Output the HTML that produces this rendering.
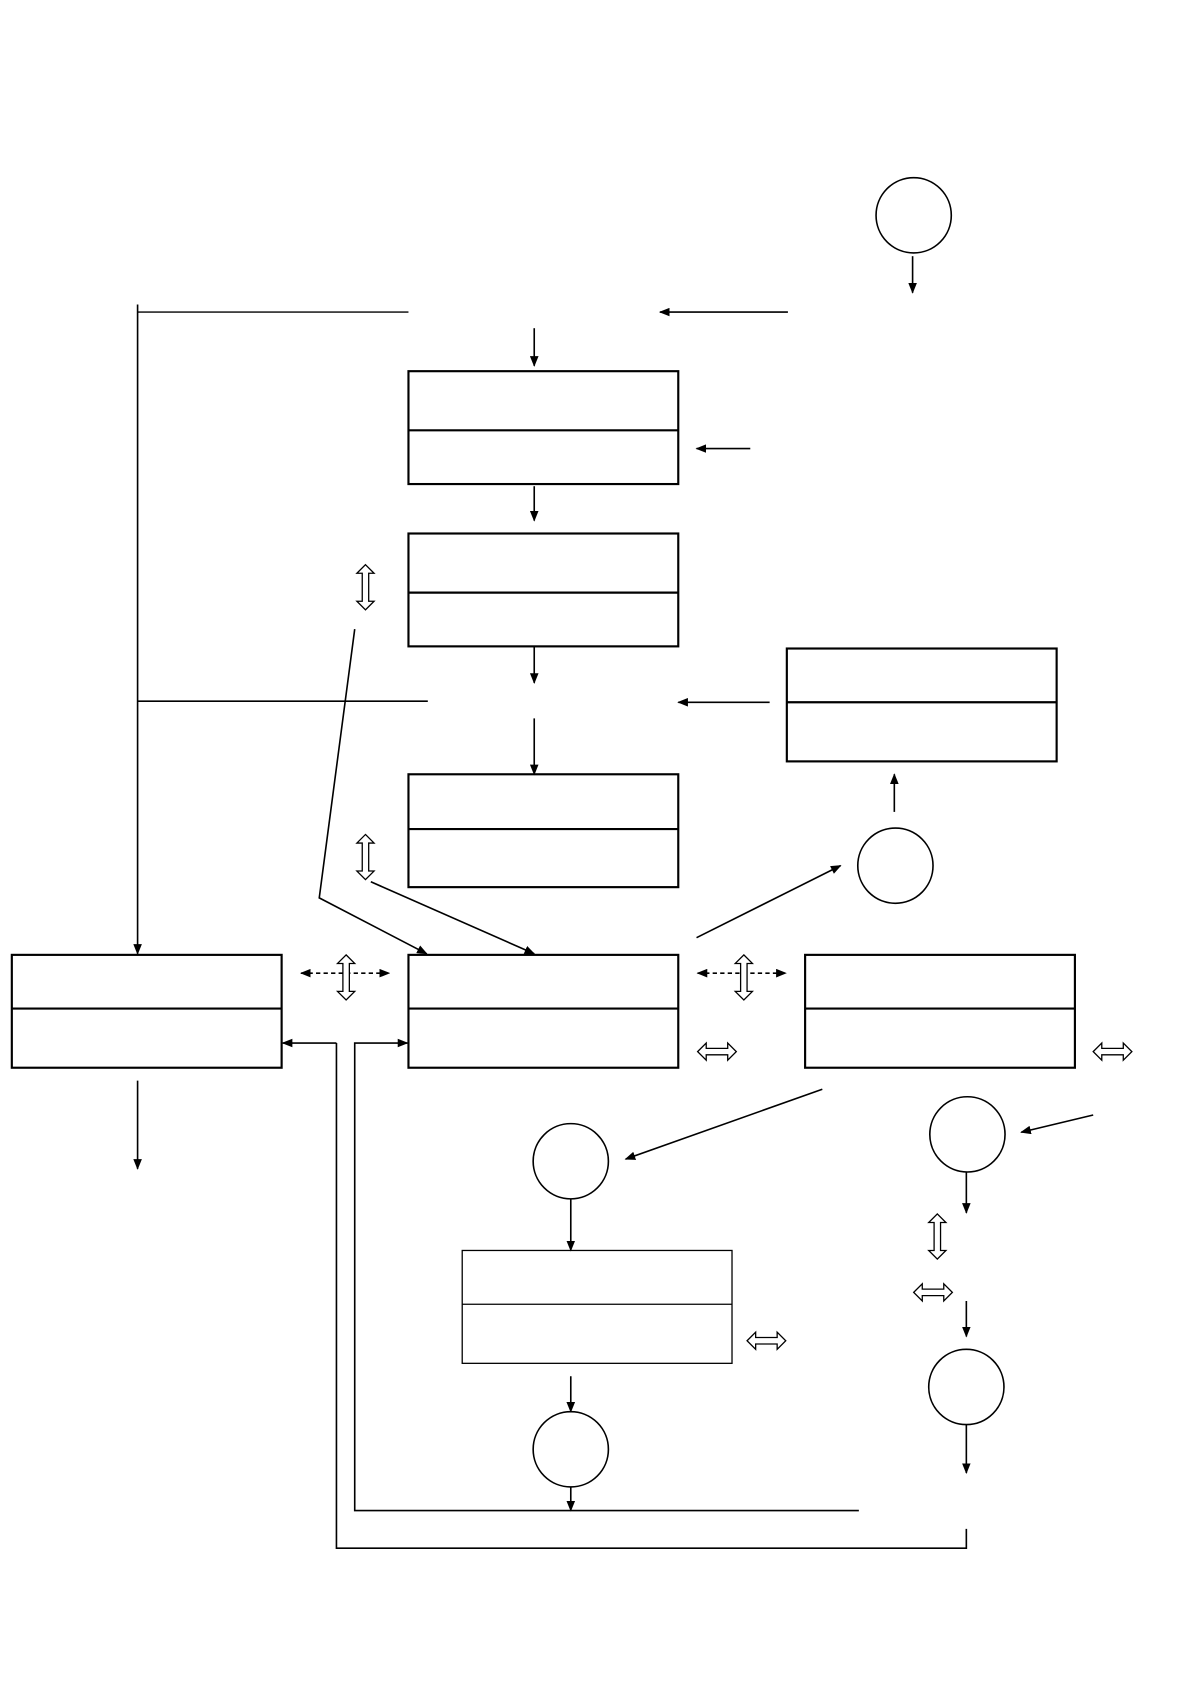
<!DOCTYPE html>
<html><head><meta charset="utf-8"><style>
html,body{margin:0;padding:0;background:#fff;}
svg{display:block;}
</style></head><body>
<svg width="1191" height="1684" viewBox="0 0 1108 1566" xmlns="http://www.w3.org/2000/svg">
<defs>
<marker id="a" markerWidth="10" markerHeight="8" refX="9" refY="4" orient="auto" markerUnits="userSpaceOnUse">
<path d="M0,0 L10,4 L0,8 z" fill="#000"/></marker>
<marker id="b" markerWidth="10" markerHeight="8" refX="1" refY="4" orient="auto" markerUnits="userSpaceOnUse">
<path d="M10,0 L0,4 L10,8 z" fill="#000"/></marker>
<g id="vd"><polygon points="0,-21 8,-13 3,-13 3,13 8,13 0,21 -8,13 -3,13 -3,-13 -8,-13" fill="#fff" stroke="#000" stroke-width="1.2"/></g>
<g id="hd"><polygon points="-18,0 -10,-8 -10,-3 10,-3 10,-8 18,0 10,8 10,3 -10,3 -10,8" fill="#fff" stroke="#000" stroke-width="1.2"/></g>
</defs>
<g fill="none" stroke="#000" stroke-width="1.5">
<circle cx="850" cy="200" r="35"/>
<circle cx="833" cy="805" r="35"/>
<circle cx="531" cy="1080" r="35"/>
<circle cx="531" cy="1348" r="35"/>
<circle cx="900" cy="1055" r="35"/>
<circle cx="899" cy="1290" r="35"/>
<rect x="380" y="345" width="251" height="105" stroke-width="2"/><line x1="380" y1="400" x2="631" y2="400" stroke-width="2"/>
<rect x="380" y="496" width="251" height="105" stroke-width="2"/><line x1="380" y1="551" x2="631" y2="551" stroke-width="2"/>
<rect x="732" y="603" width="251" height="105" stroke-width="2"/><line x1="732" y1="653" x2="983" y2="653" stroke-width="2"/>
<rect x="380" y="720" width="251" height="105" stroke-width="2"/><line x1="380" y1="771" x2="631" y2="771" stroke-width="2"/>
<rect x="11" y="888" width="251" height="105" stroke-width="2"/><line x1="11" y1="938" x2="262" y2="938" stroke-width="2"/>
<rect x="380" y="888" width="251" height="105" stroke-width="2"/><line x1="380" y1="938" x2="631" y2="938" stroke-width="2"/>
<rect x="749" y="888" width="251" height="105" stroke-width="2"/><line x1="749" y1="938" x2="1000" y2="938" stroke-width="2"/>
<rect x="430" y="1163" width="251" height="105" stroke-width="1.2"/><line x1="430" y1="1213" x2="681" y2="1213" stroke-width="1.2"/>
</g>
<g fill="none" stroke="#000" stroke-width="1.5">
<line x1="849" y1="238" x2="849" y2="272" marker-end="url(#a)"/>
<line x1="128" y1="283" x2="128" y2="887" marker-end="url(#a)"/>
<line x1="128" y1="290" x2="380" y2="290" stroke-width="1.2"/>
<line x1="733" y1="290" x2="614" y2="290" marker-end="url(#a)"/>
<line x1="497" y1="305" x2="497" y2="340" marker-end="url(#a)"/>
<line x1="698" y1="417" x2="648" y2="417" marker-end="url(#a)"/>
<line x1="497" y1="452" x2="497" y2="484" marker-end="url(#a)"/>
<line x1="497" y1="601" x2="497" y2="635" marker-end="url(#a)"/>
<line x1="128" y1="652" x2="398" y2="652"/>
<line x1="716" y1="653" x2="631" y2="653" marker-end="url(#a)"/>
<line x1="832" y1="755" x2="832" y2="720" marker-end="url(#a)"/>
<line x1="497" y1="668" x2="497" y2="720" marker-end="url(#a)"/>
<polyline points="330,585 297,835 397,887" marker-end="url(#a)"/>
<line x1="345" y1="820" x2="497" y2="887" marker-end="url(#a)"/>
<line x1="648" y1="872" x2="782" y2="805" marker-end="url(#a)"/>
<line x1="280" y1="905" x2="362" y2="905" stroke-dasharray="4,3" marker-start="url(#b)" marker-end="url(#a)"/>
<line x1="649" y1="905" x2="731" y2="905" stroke-dasharray="4,3" marker-start="url(#b)" marker-end="url(#a)"/>
<line x1="128" y1="1005" x2="128" y2="1087" marker-end="url(#a)"/>
<polyline points="313,970 313,1440 899,1440 899,1422"/>
<line x1="313" y1="970" x2="263" y2="970" marker-end="url(#a)"/>
<polyline points="799,1405 330,1405 330,970 379,970" marker-end="url(#a)"/>
<line x1="765" y1="1013" x2="582" y2="1078" marker-end="url(#a)"/>
<line x1="531" y1="1115" x2="531" y2="1163" marker-end="url(#a)"/>
<line x1="531" y1="1280" x2="531" y2="1313" marker-end="url(#a)"/>
<line x1="531" y1="1383" x2="531" y2="1405" marker-end="url(#a)"/>
<line x1="1017" y1="1037" x2="950" y2="1053" marker-end="url(#a)"/>
<line x1="899" y1="1090" x2="899" y2="1128" marker-end="url(#a)"/>
<line x1="899" y1="1210" x2="899" y2="1243" marker-end="url(#a)"/>
<line x1="899" y1="1325" x2="899" y2="1370" marker-end="url(#a)"/>
</g>
<use href="#vd" x="340" y="546"/>
<use href="#vd" x="340" y="797"/>
<use href="#vd" x="322" y="909"/>
<use href="#vd" x="692" y="909"/>
<use href="#vd" x="872" y="1150"/>
<use href="#hd" x="667" y="978"/>
<use href="#hd" x="1035" y="978"/>
<use href="#hd" x="713" y="1247"/>
<use href="#hd" x="868" y="1202"/>
</svg>
</body></html>
